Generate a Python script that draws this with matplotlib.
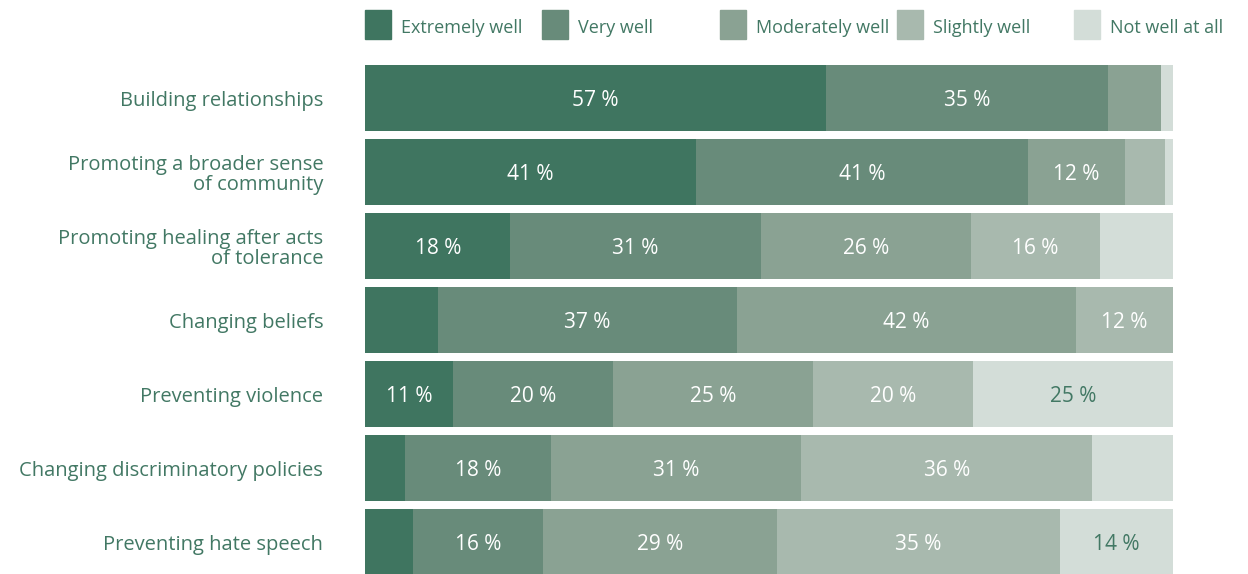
import matplotlib.pyplot as plt
from matplotlib.patches import Rectangle

categories = [
    "Building relationships",
    "Promoting a broader sense\nof community",
    "Promoting healing after acts\nof tolerance",
    "Changing beliefs",
    "Preventing violence",
    "Changing discriminatory policies",
    "Preventing hate speech",
]
levels = ["Extremely well", "Very well", "Moderately well", "Slightly well", "Not well at all"]

extremely = [57, 41, 18, 9, 11, 5, 6]
very = [35, 41, 31, 37, 20, 18, 16]
moderately = [6.5, 12, 26, 42, 25, 31, 29]
slightly = [0, 5, 16, 12, 20, 36, 35]
not_well = [1.5, 1, 9, 0, 25, 10, 14]

colors = ["#3f7560", "#688b7a", "#8aa293", "#a8b9ae", "#d3ddd8"]
value_colors = ["white", "white", "white", "white", "#427864"]
text_color = "#427864"

plt.rcParams["font.family"] = ["Open Sans", "DejaVu Sans"]

fig = plt.figure(figsize=(12.48, 5.74), dpi=100)
W, H = 1248, 574
ax = fig.add_axes([365 / W, 0, 808 / W, 509 / H])

series = [extremely, very, moderately, slightly, not_well]
totals = [sum(s[i] for s in series) for i in range(len(categories))]

lefts = [0.0] * len(categories)
for vals, col, vcol in zip(series, colors, value_colors):
    widths = [v / t * 100 for v, t in zip(vals, totals)]
    bars = ax.barh(range(len(categories)), widths, left=lefts, height=0.892,
                   color=col, linewidth=0)
    for b, v in zip(bars, vals):
        if v >= 11:
            ax.text(b.get_x() + b.get_width() / 2, b.get_y() + b.get_height() / 2,
                    f"{v:g} %", ha="center", va="center_baseline", color=vcol, fontsize=15)
    lefts = [l + w for l, w in zip(lefts, widths)]

ax.set_xlim(0, 100)
ax.set_ylim(6.432, -0.446)
ax.set_yticks(range(len(categories)))
ax.set_yticklabels(categories, fontsize=14.5, color=text_color, linespacing=1.05)
ax.tick_params(axis="y", length=0, pad=30)
ax.set_xticks([])
for s in ax.spines.values():
    s.set_visible(False)

# legend in fixed-width columns above the bars
col_w = 177.25 / 808
for i, (lab, col) in enumerate(zip(levels, colors)):
    x0 = i * col_w
    ax.add_patch(Rectangle((x0, 535 / 509), 26 / 808, 29 / 509,
                           transform=ax.transAxes, color=col, clip_on=False))
    ax.text(x0 + 36 / 808, 548 / 509, lab, transform=ax.transAxes,
            ha="left", va="center_baseline", color=text_color, fontsize=13)

fig.savefig("out.png", dpi=100)
